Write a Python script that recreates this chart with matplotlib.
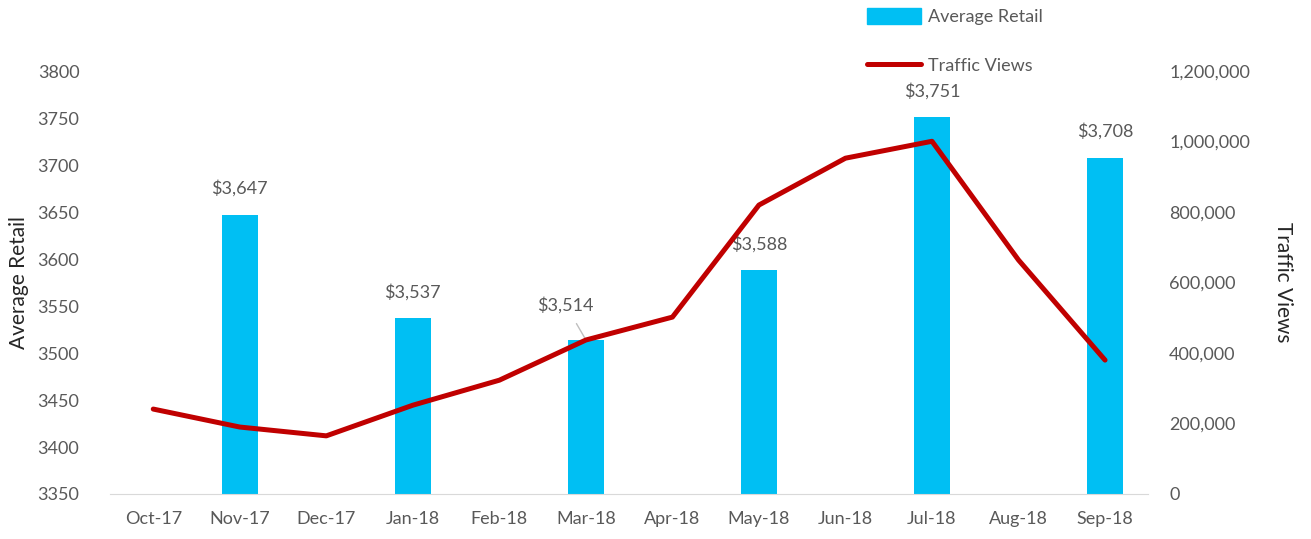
import numpy as np
import matplotlib as mpl
import matplotlib.pyplot as plt
from matplotlib.lines import Line2D
from matplotlib.ticker import FuncFormatter

mpl.rcParams['font.family'] = ['Lato', 'DejaVu Sans']

# data
months = ['Oct-17', 'Nov-17', 'Dec-17', 'Jan-18', 'Feb-18', 'Mar-18',
          'Apr-18', 'May-18', 'Jun-18', 'Jul-18', 'Aug-18', 'Sep-18']
retail_months = ['Nov-17', 'Jan-18', 'Mar-18', 'May-18', 'Jul-18', 'Sep-18']
retail_values = [3647, 3537, 3514, 3588, 3751, 3708]
traffic_views = [241000, 190000, 165000, 252000, 323000, 437000,
                 502000, 820000, 953000, 1001000, 664000, 380000]

GRAY = '#595959'
BLUE = '#00BFF3'
RED = '#C00000'

fig = plt.figure(figsize=(13.11, 5.39), dpi=100)
ax = fig.add_axes([0.0839, 0.0835, 0.792, 0.7845])
ax2 = ax.twinx()

x_all = np.arange(len(months))
x_bar = [months.index(m) for m in retail_months]
ax.bar(x_bar, retail_values, width=0.41, color=BLUE, zorder=2)
ax.set_ylim(3350, 3800)
ax.set_xlim(-0.5, len(months) - 0.5)
ax.set_yticks(np.arange(3350, 3801, 50))
ax.set_xticks(x_all)
ax.set_xticklabels(months)

# data labels
for xb, v in zip(x_bar, retail_values):
    label = f'${v:,}'
    if v == 3514:
        ax.annotate(label, xy=(xb, v), xytext=(-14.5, 25), textcoords='offset points',
                    ha='center', va='center', fontsize=13, color=GRAY,
                    arrowprops=dict(arrowstyle='-', color='#BFBFBF', lw=1,
                                    shrinkA=6, shrinkB=0))
    else:
        ax.annotate(label, xy=(xb, v), xytext=(0, 19), textcoords='offset points',
                    ha='center', va='center', fontsize=13, color=GRAY)

ax2.plot(x_all, traffic_views, color=RED, lw=3.6,
         solid_capstyle='round', solid_joinstyle='round', zorder=3)
ax2.set_ylim(0, 1200000)
ax2.set_yticks(np.arange(0, 1200001, 200000))
ax2.yaxis.set_major_formatter(FuncFormatter(lambda v, p: f'{int(v):,}'))

for a in (ax, ax2):
    for s in a.spines.values():
        s.set_visible(False)
    a.tick_params(length=0, labelsize=13, labelcolor=GRAY)
ax.spines['bottom'].set_visible(True)
ax.spines['bottom'].set_color('#D9D9D9')
ax.tick_params(axis='x', pad=12)
ax.tick_params(axis='y', pad=22)
ax2.tick_params(axis='y', pad=15)

ax.set_ylabel('Average Retail', fontsize=15, color='#262626', labelpad=6)
ax2.set_ylabel('Traffic Views', fontsize=15, color='#262626', rotation=270, labelpad=31)

handles = [mpl.patches.Patch(color=BLUE),
           Line2D([0], [0], color=RED, lw=3.6, solid_capstyle='round')]
fig.legend(handles, ['Average Retail', 'Traffic Views'], loc='upper left',
           bbox_to_anchor=(0.649, 1.015), frameon=False, fontsize=13,
           labelcolor=GRAY, handlelength=3.0, handleheight=1.0,
           labelspacing=1.75, handletextpad=0.4)

fig.savefig('out.png', dpi=100)
